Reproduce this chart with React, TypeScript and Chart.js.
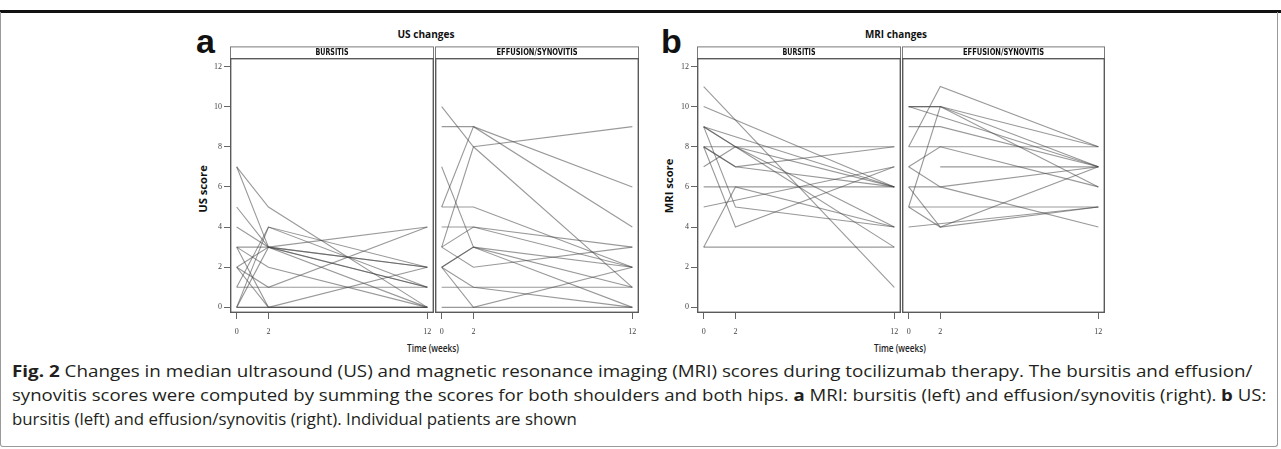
import React, { useEffect, useLayoutEffect, useRef } from "react";
import { Chart, registerables } from "chart.js";

Chart.register(...registerables);

// ---- data -------------------------------------------------------------
const WEEKS = [0, 2, 12];
const X_TICKS = [0, 2, 12];
const Y_TICKS = [0, 2, 4, 6, 8, 10, 12];

// US – bursitis (one entry per patient)
const US_BURS_W0 = [7, 7, 5, 4, 3, 3, 3, 2, 2, 1, 0, 0, 1, 2, 0, 0];
const US_BURS_W2 = [5, 3, 3, 3, 3, 0, 2, 3, 0, 4, 3, 4, 1, 1, 0, 0];
const US_BURS_W12 = [0, 1, 2, 0, 4, 0, 0, 2, 0, 1, 1, 2, 1, 4, 2, 0];

// US – effusion/synovitis
const US_EFF_W0 = [10, 9, 5, 3, 7, 5, 4, 3, 3, 2, 2, 2, 1, 0, 2];
const US_EFF_W2 = [8, 9, 9, 8, 3, 5, 4, 4, 2, 3, 1, 0, 1, 0, 3];
const US_EFF_W12 = [1, 6, 4, 9, 0, 2, 3, 2, 3, 1, 0, 2, 1, 0, 2];

// MRI – bursitis
const MRI_BURS_W0 = [11, 10, 9, 9, 9, 8, 8, 8, 7, 6, 5, 3, 3, 8, 9];
const MRI_BURS_W2 = [null, null, 8, 5, null, 8, 4, 7, 8, 6, null, 6, 3, 7, 8];
const MRI_BURS_W12 = [1, 6, 4, 4, 6, 8, 7, 6, 3, 6, 7, 4, 3, 8, 6];

// MRI – effusion/synovitis
const MRI_EFF_W0 = [8, 10, 10, 5, 9, 8, 7, null, 6, 7, 6, 5, 4, 5, 10];
const MRI_EFF_W2 = [11, 10, null, 10, 9, 8, 8, 7, 6, 6, 4, 5, null, 4, 10];
const MRI_EFF_W12 = [8, 8, 7, 6, 7, 8, 6, 7, 7, 4, 7, 5, 5, 5, 7];

// ---- chart facet --------------------------------------------------------
const LINE_COLOR = "rgba(70,70,70,0.55)";
const TICK_FONT = { family: "'Liberation Serif', 'DejaVu Serif', serif", size: 8 };

type FacetProps = {
  left: number;
  top: number;
  width: number;
  height: number;
  showY: boolean;
  label: string;
  labelW: number;
  w0: (number | null)[];
  w2: (number | null)[];
  w12: (number | null)[];
};

const stripPlugin = {
  id: "facetStrip",
  afterDraw(chart: any, _args: any, opts: any) {
    const { ctx, chartArea } = chart;
    const { left, top, right, bottom } = chartArea;
    ctx.save();
    const sh = 11.6;
    ctx.strokeStyle = "#7a7a7a";
    ctx.lineWidth = 1;
    ctx.strokeRect(left + 0.5, top - sh + 0.5, right - left - 1, sh);
    ctx.fillStyle = "#111";
    ctx.font = "bold 8px 'Liberation Sans Narrow', 'DejaVu Sans Condensed', 'Open Sans', sans-serif";
    ctx.textAlign = "center";
    ctx.textBaseline = "middle";
    const m = ctx.measureText(opts.label).width;
    const k = opts.labelW / m;
    ctx.translate((left + right) / 2, top - sh / 2 + 0.8);
    ctx.scale(k, 1);
    ctx.fillText(opts.label, 0, 0);
    ctx.restore();
    ctx.save();
    ctx.strokeStyle = "#5a5a5a";
    ctx.lineWidth = 1.4;
    ctx.strokeRect(left + 0.7, top + 0.7, right - left - 1.4, bottom - top - 1.4);
    ctx.restore();
  },
};

function Facet(p: FacetProps) {
  const ref = useRef<HTMLCanvasElement>(null);
  useEffect(() => {
    if (!ref.current) return;
    const weeks = [p.w0, p.w2, p.w12];
    const datasets = p.w0.map((_, i) => ({
      data: WEEKS.map((t, k) => ({ x: t, y: weeks[k][i] })),
      borderColor: LINE_COLOR,
      borderWidth: 1.1,
      pointRadius: 0,
      fill: false,
      tension: 0,
      spanGaps: true,
    }));
    const chart = new Chart(ref.current, {
      type: "line",
      data: { datasets },
      options: {
        responsive: false,
        animation: false,
        events: [],
        layout: { padding: { top: 14, left: 0, right: 0, bottom: 0 }, autoPadding: false },
        plugins: {
          legend: { display: false },
          tooltip: { enabled: false },
          facetStrip: { label: p.label, labelW: p.labelW },
        } as any,
        scales: {
          x: {
            type: "linear",
            min: -0.42,
            max: 12.42,
            afterBuildTicks: (s: any) => {
              s.ticks = X_TICKS.map((v) => ({ value: v }));
            },
            afterFit: (s: any) => {
              s.height = 27;
              s.paddingLeft = 0;
              s.paddingRight = 0;
            },
            ticks: {
              font: TICK_FONT,
              color: "#444",
              padding: 8,
              maxRotation: 0,
              autoSkip: false,
            },
            grid: {
              drawOnChartArea: false,
              drawTicks: true,
              tickLength: 6,
              color: "#666",
              tickColor: "#666",
            },
            border: { display: false },
          },
          y: {
            type: "linear",
            display: p.showY,
            min: -0.28,
            max: 12.42,
            afterBuildTicks: (s: any) => {
              s.ticks = Y_TICKS.map((v) => ({ value: v }));
            },
            afterFit: (s: any) => {
              s.width = p.showY ? 40 : 0;
              s.paddingTop = 0;
              s.paddingBottom = 0;
            },
            ticks: { font: TICK_FONT, color: "#444", padding: 2 },
            grid: {
              drawOnChartArea: false,
              drawTicks: true,
              tickLength: 6,
              color: "#666",
              tickColor: "#666",
            },
            border: { display: false },
          },
        },
      },
      plugins: [stripPlugin],
    } as any);
    return () => chart.destroy();
  }, []);
  return (
    <canvas
      ref={ref}
      width={p.width}
      height={p.height}
      style={{ position: "absolute", left: p.left, top: p.top, width: p.width, height: p.height }}
    />
  );
}

// ---- text that is fitted to a measured width -------------------------------
type FitProps = {
  x: number;
  y: number;
  w: number;
  rot?: number;
  align?: "center" | "left";
  style?: React.CSSProperties;
  children: React.ReactNode;
};

function FitText({ x, y, w, rot = 0, align = "center", style, children }: FitProps) {
  const ref = useRef<HTMLDivElement>(null);
  useLayoutEffect(() => {
    const apply = () => {
      const el = ref.current;
      if (!el) return;
      const nat = el.offsetWidth || 1;
      const k = w / nat;
      if (align === "center") {
        el.style.transform = `translate(-50%,-50%) rotate(${rot}deg) scaleX(${k})`;
      } else {
        el.style.transformOrigin = "0 50%";
        el.style.transform = `translateY(-50%) scaleX(${k})`;
      }
    };
    apply();
    (document as any).fonts?.ready?.then(apply);
  }, []);
  return (
    <div
      ref={ref}
      style={{
        position: "absolute",
        left: x,
        top: y,
        whiteSpace: "nowrap",
        lineHeight: 1.2,
        ...style,
      }}
    >
      {children}
    </div>
  );
}

const SANS = "'Open Sans', 'Liberation Sans', sans-serif";

export default function App() {
  const titleStyle: React.CSSProperties = { fontFamily: SANS, fontWeight: 700, fontSize: 11, color: "#111" };
  const axisStyle: React.CSSProperties = { fontFamily: SANS, fontWeight: 600, fontSize: 10, color: "#222" };
  const capStyle: React.CSSProperties = { fontFamily: SANS, fontSize: 16, color: "#231f20" };
  const letterStyle: React.CSSProperties = {
    position: "absolute",
    fontFamily: "'Liberation Sans', Arial, sans-serif",
    fontWeight: 700,
    fontSize: 34,
    lineHeight: 1,
    color: "#111",
  };
  return (
    <div
      style={{
        position: "absolute",
        left: 0,
        top: 0,
        width: 1281,
        height: 449,
        background: "#fff",
        overflow: "hidden",
      }}
    >
      {/* frame */}
      <div style={{ position: "absolute", left: 0, top: 10, width: 1281, height: 2.5, background: "#111" }} />
      <div
        style={{
          position: "absolute",
          left: 0,
          top: 12,
          width: 1276,
          height: 434,
          border: "1px solid #9a9a9a",
          borderTop: "none",
          borderRadius: "0 0 3px 3px",
        }}
      />

      {/* panel a */}
      <div style={{ ...letterStyle, left: 196, top: 24 }}>a</div>
      <FitText x={426} y={34} w={57} style={titleStyle}>US changes</FitText>
      <FitText x={202.5} y={189} w={48} rot={-90} style={titleStyle}>US score</FitText>
      <Facet left={190} top={44} width={244} height={296} showY={true} label="BURSITIS" labelW={33}
        w0={US_BURS_W0} w2={US_BURS_W2} w12={US_BURS_W12} />
      <Facet left={435} top={44} width={204} height={296} showY={false} label="EFFUSION/SYNOVITIS" labelW={81}
        w0={US_EFF_W0} w2={US_EFF_W2} w12={US_EFF_W12} />
      <FitText x={433} y={348} w={52} style={axisStyle}>Time (weeks)</FitText>

      {/* panel b */}
      <div style={{ ...letterStyle, left: 661, top: 24 }}>b</div>
      <FitText x={896} y={34} w={62} style={titleStyle}>MRI changes</FitText>
      <FitText x={669} y={186} w={55} rot={-90} style={titleStyle}>MRI score</FitText>
      <Facet left={657} top={44} width={244} height={296} showY={true} label="BURSITIS" labelW={33}
        w0={MRI_BURS_W0} w2={MRI_BURS_W2} w12={MRI_BURS_W12} />
      <Facet left={902} top={44} width={203} height={296} showY={false} label="EFFUSION/SYNOVITIS" labelW={81}
        w0={MRI_EFF_W0} w2={MRI_EFF_W2} w12={MRI_EFF_W12} />
      <FitText x={900} y={348} w={52} style={axisStyle}>Time (weeks)</FitText>

      {/* caption */}
      <FitText x={12} y={372} w={1241} align="left" style={capStyle}>
        <b>Fig. 2</b> Changes in median ultrasound (US) and magnetic resonance imaging (MRI) scores during tocilizumab therapy. The bursitis and effusion/
      </FitText>
      <FitText x={12} y={396} w={1254} align="left" style={capStyle}>
        synovitis scores were computed by summing the scores for both shoulders and both hips. <b>a</b> MRI: bursitis (left) and effusion/synovitis (right). <b>b</b> US:
      </FitText>
      <FitText x={12} y={420} w={565} align="left" style={capStyle}>
        bursitis (left) and effusion/synovitis (right). Individual patients are shown
      </FitText>
    </div>
  );
}
